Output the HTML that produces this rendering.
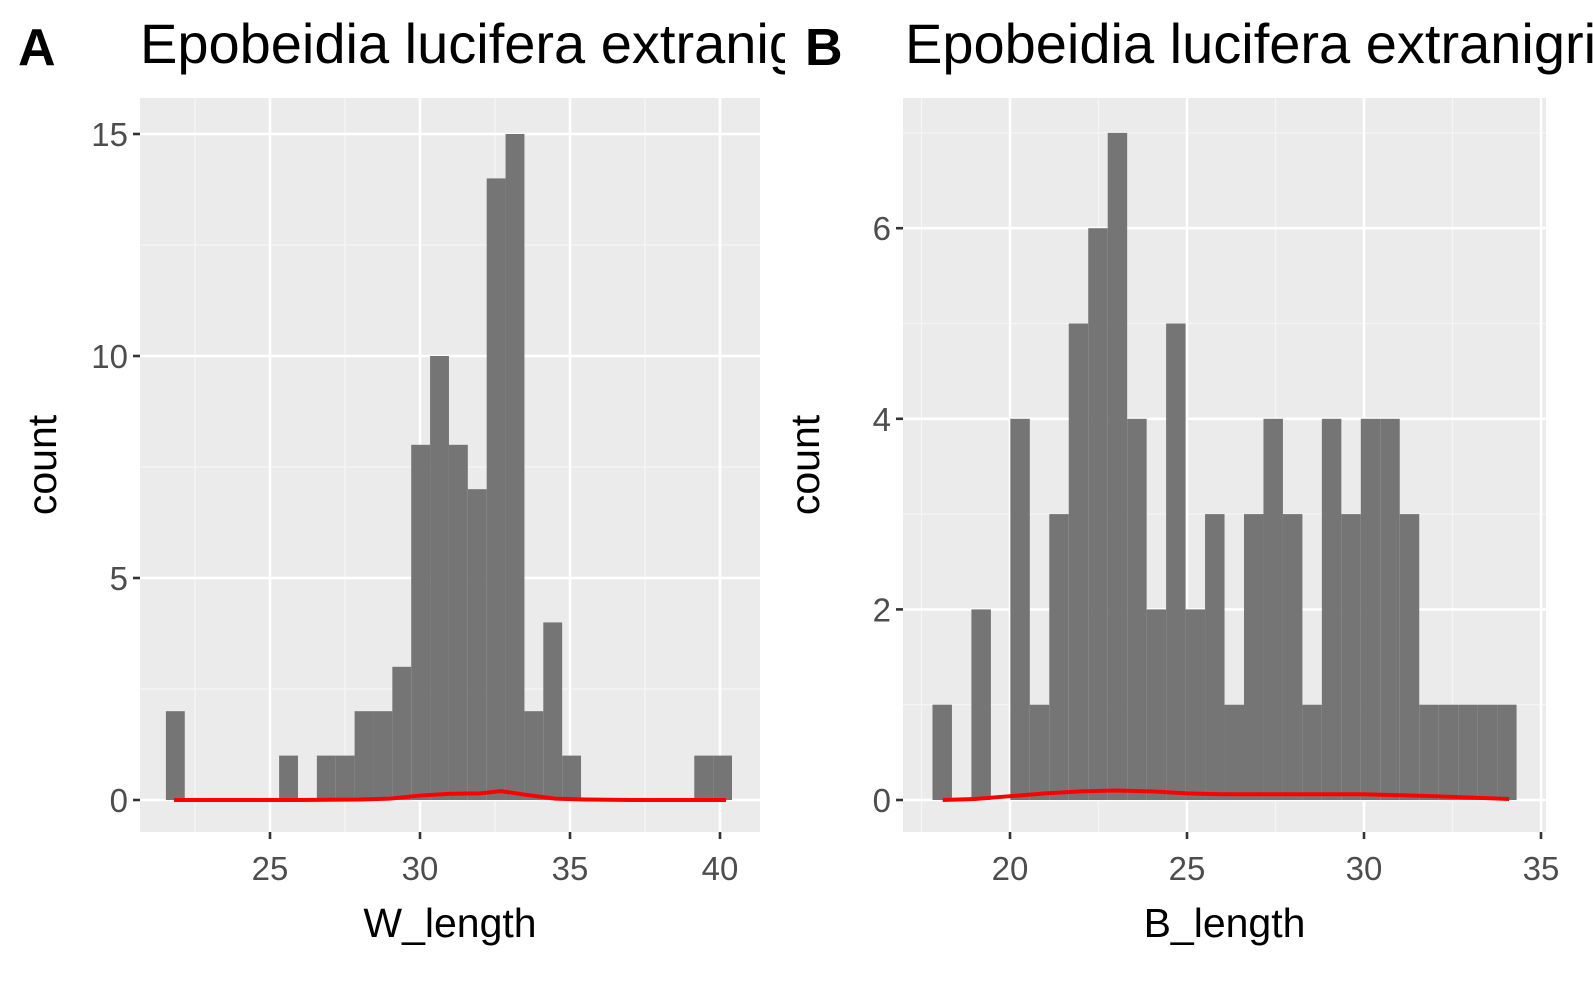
<!DOCTYPE html>
<html><head><meta charset="utf-8"><style>
html,body{margin:0;padding:0;background:#fff;width:1593px;height:984px;overflow:hidden}
svg text{font-family:"Liberation Sans",sans-serif}
</style></head><body>
<svg id="chart" width="1593" height="984" xmlns="http://www.w3.org/2000/svg"></svg>
<script>
// Panel A data
const aBinStart = 21.53, aBinWidth = 0.629;
const aCounts = [2,0,0,0,0,0,1,0,1,1,2,2,3,8,10,8,7,14,15,2,4,1,0,0,0,0,0,0,1,1];
const aXTicks = [25,30,35,40];
const aYTicks = [0,5,10,15];
const aCurveX = [21.8,24,26,28,29,30,31,32,32.7,33.5,34.5,35.5,37,40.2];
const aCurveY = [0,0,0,0.01,0.03,0.1,0.14,0.15,0.2,0.12,0.03,0.01,0,0];
// Panel B data
const bBinStart = 17.81, bBinWidth = 0.55;
const bCounts = [1,0,2,0,4,1,3,5,6,7,4,2,5,2,3,1,3,4,3,1,4,3,4,4,3,1,1,1,1,1];
const bXTicks = [20,25,30,35];
const bYTicks = [0,2,4,6];
const bCurveX = [18.1,19,20,21,22,23,24,25,26,28,30,32,34.1];
const bCurveY = [0,0.01,0.04,0.07,0.09,0.1,0.09,0.07,0.06,0.06,0.06,0.04,0.01];

const svg=document.getElementById('chart');
const NS='http://www.w3.org/2000/svg';
function mk(t,a,p){const e=document.createElementNS(NS,t);for(const k in a)e.setAttribute(k,a[k]);(p||svg).appendChild(e);return e;}

function panel(o){
  const g=mk('g',{});
  
  
  const X=v=>o.x0+(v-o.xv0)*o.xs, Y=v=>o.y0-v*o.ys;
  const bg=mk('rect',{x:o.L,y:o.T,width:o.R-o.L,height:o.B-o.T,fill:'#EBEBEB'},g);
  
  
  o.xMinor.forEach(v=>mk('line',{x1:X(v),x2:X(v),y1:o.T,y2:o.B,stroke:'#F5F5F5','stroke-width':1.3},g));
  o.yMinor.forEach(v=>mk('line',{x1:o.L,x2:o.R,y1:Y(v),y2:Y(v),stroke:'#F5F5F5','stroke-width':1.3},g));
  o.xt.forEach(v=>mk('line',{x1:X(v),x2:X(v),y1:o.T,y2:o.B,stroke:'#fff','stroke-width':2.6},g));
  o.yt.forEach(v=>mk('line',{x1:o.L,x2:o.R,y1:Y(v),y2:Y(v),stroke:'#fff','stroke-width':2.6},g));
  o.counts.forEach((c,i)=>{ if(!c) return;
    const x1=X(o.bs+i*o.bw), x2=X(o.bs+(i+1)*o.bw);
    const r=mk('rect',{x:x1,y:Y(c),width:x2-x1,height:Y(0)-Y(c),fill:'#757575'},g);
    
    
  });
  const pl=mk('polyline',{points:o.cx.map((v,i)=>X(v)+','+Y(o.cy[i])).join(' '),fill:'none',stroke:'#FF0000','stroke-width':4},g);
  
  
  o.xt.forEach(v=>{mk('line',{x1:X(v),x2:X(v),y1:o.B,y2:o.B+7,stroke:'#333','stroke-width':2.6},g);
    const t=mk('text',{x:X(v),y:o.B+48,'text-anchor':'middle','font-size':33,fill:'#4D4D4D'},g);t.textContent=v;
    });
  o.yt.forEach(v=>{mk('line',{x1:o.L-7,x2:o.L,y1:Y(v),y2:Y(v),stroke:'#333','stroke-width':2.6},g);
    const t=mk('text',{x:o.L-12,y:Y(v)+12,'text-anchor':'end','font-size':33,fill:'#4D4D4D'},g);t.textContent=v;
    });
  const xt=mk('text',{x:(o.L+o.R)/2,y:937,'text-anchor':'middle','font-size':41,fill:'#000'},g);xt.textContent=o.xlab;
  
  const yt=mk('text',{x:0,y:0,'text-anchor':'middle','font-size':41,fill:'#000',transform:`translate(${o.L-84},${(o.T+o.B)/2}) rotate(-90)`},g);yt.textContent='count';
  
  const cpath=mk('clipPath',{id:o.name+'-clip'},g);
  mk('rect',{x:o.tx,y:0,width:o.tw,height:95},cpath);
  const tt=mk('text',{x:o.tx,y:63,'font-size':56,fill:'#000','clip-path':`url(#${o.name}-clip)`},g);tt.textContent='Epobeidia lucifera extranigricans';
  
  const tg=mk('text',{x:o.tagx,y:65,'font-size':52,'font-weight':'bold',fill:'#000'},g);tg.textContent=o.tag;
  
}
panel({name:'panel-a',L:140,R:760,T:98,B:832,x0:420,xv0:30,xs:30,y0:800,ys:44.4,
  xt:aXTicks,yt:aYTicks,xMinor:[22.5,27.5,32.5,37.5],yMinor:[2.5,7.5,12.5],
  counts:aCounts,bs:aBinStart,bw:aBinWidth,cx:aCurveX,cy:aCurveY,xlab:'W_length',
  tx:140,tw:645,tag:'A',tagx:18});
panel({name:'panel-b',L:903,R:1546,T:98,B:832,x0:1010,xv0:20,xs:35.4,y0:800,ys:95.3,
  xt:bXTicks,yt:bYTicks,xMinor:[17.5,22.5,27.5,32.5],yMinor:[1,3,5,7],
  counts:bCounts,bs:bBinStart,bw:bBinWidth,cx:bCurveX,cy:bCurveY,xlab:'B_length',
  tx:905,tw:700,tag:'B',tagx:805});
</script>
</body></html>
